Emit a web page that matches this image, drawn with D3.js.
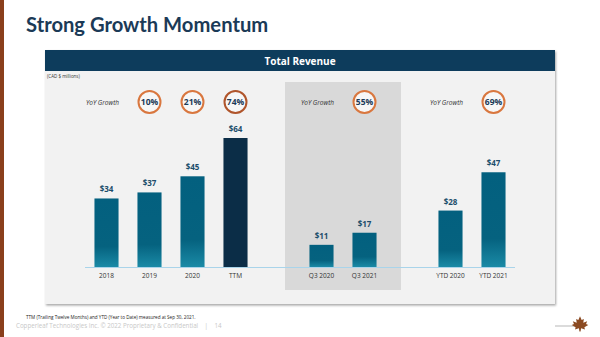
<!DOCTYPE html>
<html>
<head>
<meta charset="utf-8">
<script src="https://cdn.jsdelivr.net/npm/d3@7"></script>
<style>
  body { margin: 0; background: #fff; }
  svg { display: block; font-family: "Open Sans", sans-serif; }
</style>
</head>
<body>
<script>
const width = 600, height = 337;

// data
const categories = ["2018", "2019", "2020", "TTM", "_gap1", "Q3 2020", "Q3 2021", "_gap2", "YTD 2020", "YTD 2021"];
const revenue = [34, 37, 45, 64, null, 11, 17, null, 28, 47];
const valueLabels = ["$34", "$37", "$45", "$64", "", "$11", "$17", "", "$28", "$47"];
// growth circles sit above these categories
const growthCats = ["2019", "2020", "TTM", "Q3 2021", "YTD 2021"];
const growthLabels = ["10%", "21%", "74%", "55%", "69%"];
const yoyCats = ["2018", "Q3 2020", "YTD 2020"];

var svg = d3.select("body").append("svg")
  .attr("width", width)
  .attr("height", height);

var defs = svg.append("defs");
var grad = defs.append("linearGradient")
  .attr("id", "barGrad")
  .attr("x1", "0%").attr("x2", "0%").attr("y1", "0%").attr("y2", "100%");
grad.append("stop").attr("offset", "0%").attr("stop-color", "#03607f");
grad.append("stop").attr("offset", "70%").attr("stop-color", "#05627f");
grad.append("stop").attr("offset", "100%").attr("stop-color", "#1a8aa6");

var shadow = defs.append("filter").attr("id", "shadow").attr("x", "-5%").attr("y", "-5%").attr("width", "110%").attr("height", "115%");
shadow.append("feDropShadow").attr("dx", 1).attr("dy", 1.5).attr("stdDeviation", 1).attr("flood-color", "#000").attr("flood-opacity", 0.35);

// left brand strip
svg.append("rect").attr("x", 0).attr("y", 0).attr("width", 4).attr("height", height).attr("fill", "#8a3f1c");

svg.append("text")
  .attr("x", 26).attr("y", 32)
  .attr("font-family", "Lato, sans-serif")
  .attr("font-size", 20.2).attr("font-weight", "bold")
  .attr("fill", "#1b3a57")
  .text("Strong Growth Momentum");

// panel
svg.append("rect")
  .attr("x", 45).attr("y", 50).attr("width", 510).attr("height", 254)
  .attr("fill", "#f2f2f2")
  .attr("filter", "url(#shadow)");

svg.append("rect")
  .attr("x", 45).attr("y", 50).attr("width", 510).attr("height", 21)
  .attr("fill", "#0d3c5c");

svg.append("text")
  .attr("x", 300).attr("y", 64.5)
  .attr("text-anchor", "middle")
  .attr("font-size", 10).attr("font-weight", "bold")
  .attr("fill", "#fff")
  .text("Total Revenue");

svg.append("text")
  .attr("x", 47).attr("y", 78)
  .attr("font-size", 4.5).attr("fill", "#333")
  .text("(CAD $ millions)");

// scales
const x = d3.scaleBand()
  .domain(categories)
  .range([85, 515])
  .paddingInner(0.44)
  .paddingOuter(0.22);

const baseY = 267;
const y = d3.scaleLinear()
  .domain([0, 64])
  .range([baseY, 138]);

// shaded quarter region
var qMid = (x("Q3 2020") + x("Q3 2021") + x.bandwidth()) / 2;
svg.append("rect")
  .attr("x", qMid - 58).attr("y", 82)
  .attr("width", 116).attr("height", 208)
  .attr("fill", "#d9d9d9");

// bars
var barData = categories.map((c, i) => ({ cat: c, v: revenue[i], label: valueLabels[i] }))
  .filter(d => d.v !== null);

svg.selectAll(".bar")
  .data(barData)
  .enter().append("rect")
  .attr("class", "bar")
  .attr("x", d => x(d.cat))
  .attr("y", d => y(d.v))
  .attr("width", x.bandwidth())
  .attr("height", d => baseY - y(d.v))
  .attr("fill", d => d.cat === "TTM" ? "#0b2d47" : "url(#barGrad)");

svg.selectAll(".vlabel")
  .data(barData)
  .enter().append("text")
  .attr("class", "vlabel")
  .attr("x", d => x(d.cat) + x.bandwidth() / 2)
  .attr("y", d => y(d.v) - 6)
  .attr("text-anchor", "middle")
  .attr("font-size", 8).attr("font-weight", "bold")
  .attr("fill", "#1d4d6b")
  .text(d => d.label);

// baseline
svg.append("line")
  .attr("x1", 85).attr("x2", 515)
  .attr("y1", baseY + 0.5).attr("y2", baseY + 0.5)
  .attr("stroke", "#a9d4ea").attr("stroke-width", 1);

// category labels
const xAxis = d3.axisBottom(x)
  .tickSize(0)
  .tickPadding(6)
  .tickFormat(d => d.startsWith("_") ? "" : d);

var gx = svg.append("g")
  .attr("transform", `translate(0,${baseY})`)
  .call(xAxis);
gx.select(".domain").remove();
gx.selectAll("text")
  .attr("font-family", "'Open Sans', sans-serif")
  .attr("font-size", 6.5)
  .attr("fill", "#333");

// growth circles
var gc = svg.selectAll(".growth")
  .data(growthCats.map((c, i) => ({ cat: c, label: growthLabels[i] })))
  .enter().append("g")
  .attr("class", "growth")
  .attr("transform", d => `translate(${x(d.cat) + x.bandwidth() / 2},102)`);

gc.append("circle")
  .attr("r", 11)
  .attr("fill", "#f7f7f7")
  .attr("stroke", d => d.cat === "TTM" ? "#b0552b" : "#d9773f")
  .attr("stroke-width", 2);

gc.append("text")
  .attr("y", 3)
  .attr("text-anchor", "middle")
  .attr("font-size", 8.5).attr("font-weight", "bold")
  .attr("fill", "#1b3a57")
  .text(d => d.label);

svg.selectAll(".yoy")
  .data(yoyCats)
  .enter().append("text")
  .attr("class", "yoy")
  .attr("x", d => x(d) + x.bandwidth() / 2 - 4)
  .attr("y", 104.5)
  .attr("text-anchor", "middle")
  .attr("font-size", 6.5).attr("font-style", "italic")
  .attr("fill", "#333")
  .text("YoY Growth");

// footnotes
svg.append("text")
  .attr("x", 26).attr("y", 319)
  .attr("font-size", 4.6).attr("fill", "#222")
  .text("TTM (Trailing Twelve Months) and YTD (Year to Date) measured at Sep 30, 2021.");

svg.append("text")
  .attr("x", 16).attr("y", 328)
  .attr("font-size", 6.2).attr("fill", "#c8c8c8")
  .style("white-space", "pre")
  .text("Copperleaf Technologies Inc. \u00A9 2022 Proprietary & Confidential    |    14");

// maple leaf mark
svg.append("line")
  .attr("x1", 555).attr("x2", 576).attr("y1", 326).attr("y2", 326)
  .attr("stroke", "#888").attr("stroke-width", 0.6);
svg.append("path")
  .attr("transform", "translate(580,325) scale(0.55)")
  .attr("fill", "#8b4a22")
  .attr("d", "M0,-16 L3,-9 L7,-11 L6,-4 L13,-7 L11,-2 L15,0 L8,4 L9,8 L2,6 L1,12 L-1,12 L-2,6 L-9,8 L-8,4 L-15,0 L-11,-2 L-13,-7 L-6,-4 L-7,-11 L-3,-9 Z");
</script>
</body>
</html>
